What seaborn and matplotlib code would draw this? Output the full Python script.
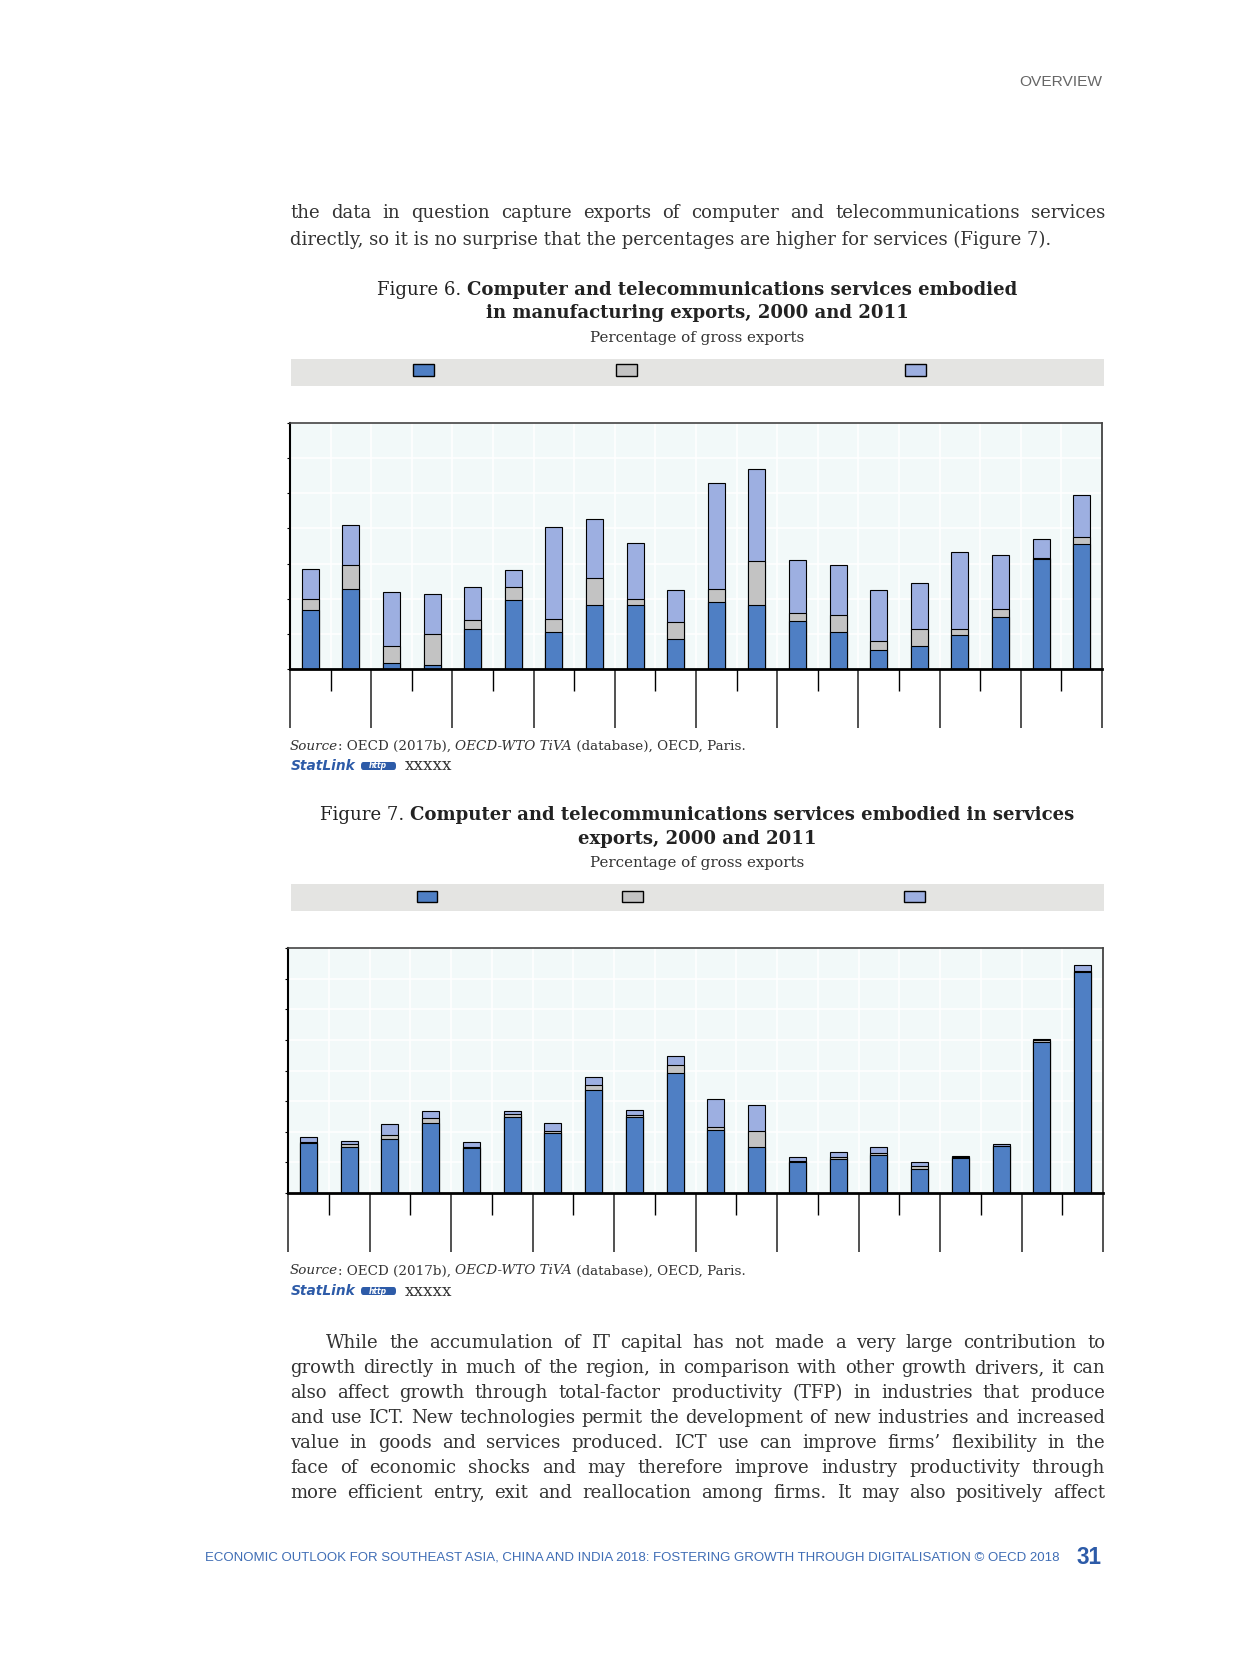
import matplotlib
matplotlib.use("Agg")
import numpy as np
import pandas as pd
import matplotlib.pyplot as plt
import seaborn as sns
from matplotlib.patches import Rectangle, FancyBboxPatch

sns.set_theme(style="white")

# ---- data (10 economies x 2000/2011) ----
positions = list(range(20))

# Figure 6: manufacturing exports
fig6_blue = [1.67, 2.28, 0.17, 0.12, 1.14, 1.96, 1.05, 1.81, 1.81, 0.85,
             1.92, 1.81, 1.36, 1.05, 0.53, 0.65, 0.96, 1.47, 3.12, 3.57]
fig6_gray = [0.33, 0.69, 0.48, 0.88, 0.25, 0.36, 0.38, 0.79, 0.19, 0.48,
             0.36, 1.25, 0.22, 0.48, 0.26, 0.50, 0.17, 0.23, 0.03, 0.20]
fig6_light = [0.84, 1.13, 1.54, 1.12, 0.95, 0.50, 2.60, 1.68, 1.59, 0.93,
              3.01, 2.64, 1.53, 1.44, 1.47, 1.30, 2.19, 1.53, 0.54, 1.19]

# Figure 7: services exports
fig7_blue = [1.63, 1.51, 1.76, 2.28, 1.47, 2.48, 1.96, 3.36, 2.48, 3.93,
             2.07, 1.50, 1.00, 1.11, 1.25, 0.79, 1.14, 1.52, 4.92, 7.22]
fig7_gray = [0.03, 0.09, 0.13, 0.18, 0.04, 0.11, 0.06, 0.18, 0.06, 0.25,
             0.07, 0.53, 0.03, 0.06, 0.07, 0.08, 0.03, 0.02, 0.06, 0.04]
fig7_light = [0.17, 0.10, 0.36, 0.22, 0.14, 0.09, 0.27, 0.24, 0.17, 0.29,
              0.93, 0.85, 0.14, 0.16, 0.19, 0.14, 0.03, 0.05, 0.05, 0.20]

BLUE = "#4F7FC4"
GRAY = "#C3C3C3"
LIGHT = "#9DAFE1"
BG = "#F2F9F9"
BAND = "#E4E4E2"
LINK = "#2D5BA8"
TXT = "#333333"

para1 = [
    "the data in question capture exports of computer and telecommunications services",
    "directly, so it is no surprise that the percentages are higher for services (Figure 7).",
]
para2 = [
    "While the accumulation of IT capital has not made a very large contribution to",
    "growth directly in much of the region, in comparison with other growth drivers, it can",
    "also affect growth through total-factor productivity (TFP) in industries that produce",
    "and use ICT. New technologies permit the development of new industries and increased",
    "value in goods and services produced. ICT use can improve firms\u2019 flexibility in the",
    "face of economic shocks and may therefore improve industry productivity through",
    "more efficient entry, exit and reallocation among firms. It may also positively affect",
]

W, H = 1240, 1654
fig = plt.figure(figsize=(W / 100, H / 100), dpi=100)
fig.patch.set_facecolor("white")
renderer = fig.canvas.get_renderer()

SERIF = "DejaVu Serif"
SANS = "Liberation Sans"


def fx(x):
    return x / W


def fy(y):
    return 1 - y / H


def width_of(s, **kw):
    # measure with guards so leading/trailing spaces count
    t = fig.text(0, 0, "|" + s + "|", **kw)
    g = fig.text(0, 0, "||", **kw)
    w = t.get_window_extent(renderer).width - g.get_window_extent(renderer).width
    t.remove()
    g.remove()
    return w


def fit_size(parts, target, ref=12.0):
    total = sum(width_of(s, fontsize=ref, **kw) for s, kw in parts)
    return ref * target / total


def put_runs(x, y, parts, size, ha="left", color=TXT):
    widths = [width_of(s, fontsize=size, **kw) for s, kw in parts]
    total = sum(widths)
    if ha == "center":
        x = x - total / 2
    for (s, kw), w in zip(parts, widths):
        fig.text(fx(x), fy(y), s, fontsize=size, va="center", ha="left",
                 color=color, **kw)
        x += w


def justify(line, x0, x1, y, size, **kw):
    words = line.split()
    ws = [width_of(w, fontsize=size, **kw) for w in words]
    gap = (x1 - x0 - sum(ws)) / (len(words) - 1)
    x = x0
    for w, wd in zip(words, ws):
        fig.text(fx(x), fy(y), w, fontsize=size, va="center", ha="left",
                 color=TXT, **kw)
        x += wd + gap


# ---- header / body text ----
ov = fit_size([("OVERVIEW", dict(family=SANS))], 83)
fig.text(fx(1102), fy(82), "OVERVIEW", family=SANS, fontsize=ov,
         color="#666666", ha="right", va="center")

body = dict(family=SERIF)
bsize = fit_size([(para1[1], body)], 760)
justify(para1[0], 290, 1105, 213, bsize, **body)
put_runs(290, 239.5, [(para1[1], body)], bsize)

y2 = [1343, 1368, 1393, 1418, 1443, 1468, 1493]
for i, (line, y) in enumerate(zip(para2, y2)):
    justify(line, 326 if i == 0 else 290, 1105, y, bsize, **body)

# ---- titles ----
reg = dict(family=SERIF)
bold = dict(family=SERIF, weight="bold")
t6 = [("Figure 6. ", reg), ("Computer and telecommunications services embodied", bold)]
tsize = fit_size(t6, 638)
put_runs(697, 290, t6, tsize, ha="center", color="#222222")
put_runs(697, 313, [("in manufacturing exports, 2000 and 2011", bold)], tsize,
         ha="center", color="#222222")
t7 = [("Figure 7. ", reg),
      ("Computer and telecommunications services embodied in services", bold)]
put_runs(697, 815.5, t7, tsize, ha="center", color="#222222")
put_runs(697, 839, [("exports, 2000 and 2011", bold)], tsize, ha="center",
         color="#222222")

ssize = fit_size([("Percentage of gross exports", reg)], 215)
put_runs(697, 338, [("Percentage of gross exports", reg)], ssize, ha="center")
put_runs(697, 863, [("Percentage of gross exports", reg)], ssize, ha="center")

# ---- legend bands (labels are blank in the source) ----
for top, bot, keys, ky in [(359, 386, [423, 626, 915], 370),
                           (884, 911, [427, 632, 914], 897)]:
    fig.patches.append(Rectangle((fx(291), fy(bot)), fx(1104) - fx(291),
                                 fy(top) - fy(bot), transform=fig.transFigure,
                                 facecolor=BAND, edgecolor="none", zorder=0))
    for kx, c in zip(keys, [BLUE, GRAY, LIGHT]):
        fig.patches.append(Rectangle((fx(kx - 10.5), fy(ky + 5.5)), 21 / W, 11 / H,
                                     transform=fig.transFigure, facecolor=c,
                                     edgecolor="black", linewidth=1.0, zorder=2))


# ---- charts ----
def draw_chart(ax, blue, gray, light, ymax):
    blue = np.array(blue)
    mid = blue + np.array(gray)
    total = mid + np.array(light)
    df = pd.DataFrame({"pos": positions, "blue": blue, "mid": mid, "total": total})
    for col, c in [("total", LIGHT), ("mid", GRAY), ("blue", BLUE)]:
        sns.barplot(data=df, x="pos", y=col, color=c, saturation=1, width=0.42,
                    edgecolor="black", linewidth=0.8, errorbar=None, ax=ax)
    ax.set_xlim(-0.5, len(positions) - 0.5)
    ax.set_ylim(0, ymax)
    ax.set_facecolor(BG)
    ax.set_xlabel("")
    ax.set_ylabel("")
    ax.set_xticks(np.arange(-0.5, len(positions), 2))
    ax.set_xticks(np.arange(0.5, len(positions) - 1, 2), minor=True)
    ax.set_xticklabels([])
    ax.set_yticks(range(0, ymax + 1))
    ax.set_yticklabels([])
    ax.tick_params(axis="x", which="major", length=42.5, width=1.2,
                   color="#333333", direction="out", bottom=True)
    ax.tick_params(axis="x", which="minor", length=15.5, width=1.0,
                   color="black", direction="out", bottom=True)
    ax.tick_params(axis="y", which="major", length=2.5, width=0.8,
                   color="black", direction="out", left=True)
    ax.set_axisbelow(True)
    ax.grid(True, which="both", axis="x", color="white", linewidth=1.2)
    ax.grid(True, which="major", axis="y", color="white", linewidth=1.2)
    for side, lw, c in [("left", 1.5, "black"), ("bottom", 2.0, "black"),
                        ("top", 1.2, "#444444"), ("right", 1.2, "#333333")]:
        ax.spines[side].set_visible(True)
        ax.spines[side].set_linewidth(lw)
        ax.spines[side].set_color(c)


ax6 = fig.add_axes([fx(290), fy(669), (1102 - 290) / W, (669 - 423) / H])
draw_chart(ax6, fig6_blue, fig6_gray, fig6_light, 7)
ax7 = fig.add_axes([fx(288), fy(1193), (1103 - 288) / W, (1193 - 948) / H])
draw_chart(ax7, fig7_blue, fig7_gray, fig7_light, 8)

# ---- sources / statlinks ----
ital = dict(family=SERIF, style="italic")
src = [("Source", ital), (": OECD (2017b), ", reg), ("OECD-WTO TiVA", ital),
       (" (database), OECD, Paris.", reg)]
srcsize = fit_size(src, 454)
sl = dict(family="DejaVu Sans", style="italic", weight="bold")
slsize = fit_size([("StatLink", sl)], 65)
xsize = fit_size([("xxxxx", reg)], 47)
for ys, yl in [(746, 766), (1271, 1291)]:
    put_runs(290, ys, src, srcsize)
    put_runs(291, yl, [("StatLink", sl)], slsize, color=LINK)
    fig.patches.append(FancyBboxPatch((fx(361), fy(yl + 4)), 35 / W, 8 / H,
                                      boxstyle="round,pad=0,rounding_size=0.002",
                                      transform=fig.transFigure, facecolor=LINK,
                                      edgecolor="none"))
    fig.text(fx(378), fy(yl), "http", family="DejaVu Sans", style="italic",
             weight="bold", fontsize=5.5, color="white", ha="center", va="center")
    put_runs(405, yl, [("xxxxx", reg)], xsize)

# ---- footer ----
foot = "ECONOMIC OUTLOOK FOR SOUTHEAST ASIA, CHINA AND INDIA 2018: FOSTERING GROWTH THROUGH DIGITALISATION \u00a9 OECD 2018"
fsize = fit_size([(foot, dict(family=SANS))], 854)
fig.text(fx(205), fy(1558), foot, family=SANS, fontsize=fsize, color="#3F6DB5",
         ha="left", va="center")
psize = fit_size([("31", dict(family=SANS, weight="bold"))], 25)
fig.text(fx(1102), fy(1557), "31", family=SANS, weight="bold", fontsize=psize,
         color="#2D5BA8", ha="right", va="center")

fig.savefig("out.png", dpi=100, facecolor="white")
